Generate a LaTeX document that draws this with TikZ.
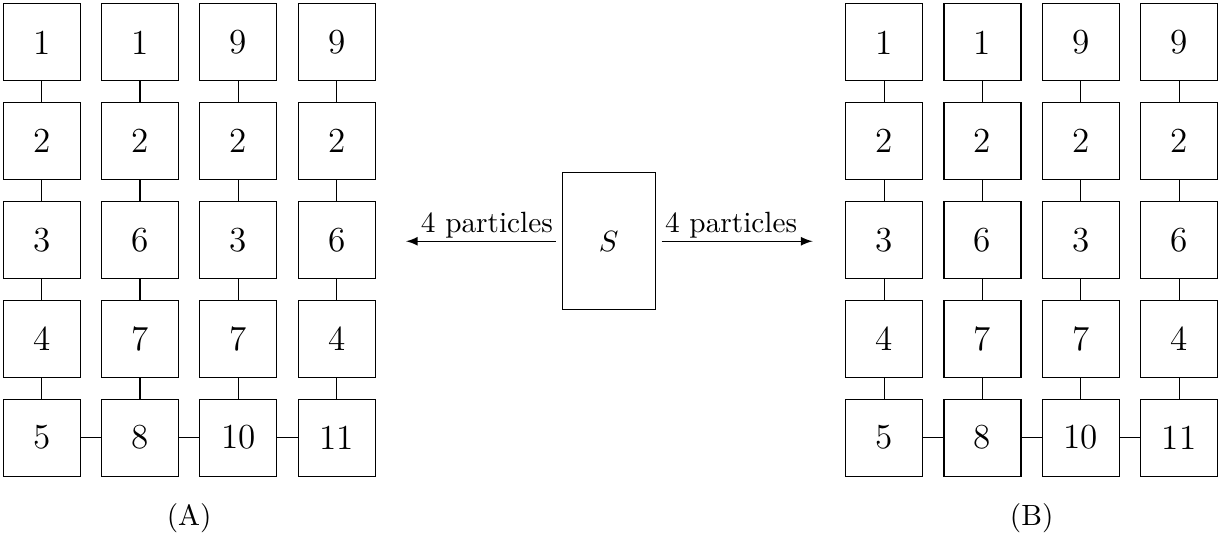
\documentclass[tikz,border=0pt]{standalone}
\usetikzlibrary{positioning}

\tikzset{
  cell/.style={draw, minimum size=0.925cm, inner sep=0pt, font=\large},
  source/.style={draw, minimum width=1.115cm, minimum height=1.645cm, inner sep=0pt},
}

\begin{document}
\begin{tikzpicture}
\useasboundingbox (0,0) rectangle (14.70,6.442);

% the two grids of cells
\foreach \g/\xo in {a/0.5, b/10.61}{
  \foreach \c/\vals in {1/{1,2,3,4,5}, 2/{1,2,6,7,8}, 3/{9,2,3,7,10}, 4/{9,2,6,4,11}}{
    \foreach \v [count=\r] in \vals
      \node[cell] (\g-\r-\c) at ({\xo+1.18*(\c-1)},{5.934-1.186*(\r-1)}) {\v};
  }
  % vertical links
  \foreach \c in {1,2,3,4}{
    \foreach \r [count=\s from 2] in {1,2,3,4}
      \draw (\g-\r-\c) -- (\g-\s-\c);
  }
  % bottom row links
  \foreach \c [count=\d from 2] in {1,2,3}
    \draw (\g-5-\c) -- (\g-5-\d);
}

% source in the middle
\node[source] (S) at (7.304,3.547) {$S$};
\coordinate (outA) at (4.872,3.547);
\coordinate (outB) at (9.752,3.547);
\draw[-latex] ([xshift=-2pt]S.west) -- node[above, inner sep=1pt, pos=0.46] {4 particles} (outA);
\draw[-latex] ([xshift=2pt]S.east) -- node[above, inner sep=1pt, pos=0.46] {4 particles} (outB);

% captions
\node (capA) at (2.27,0.228) {(A)};
\node (capB) at (12.38,0.228) {(B)};

\end{tikzpicture}
\end{document}
